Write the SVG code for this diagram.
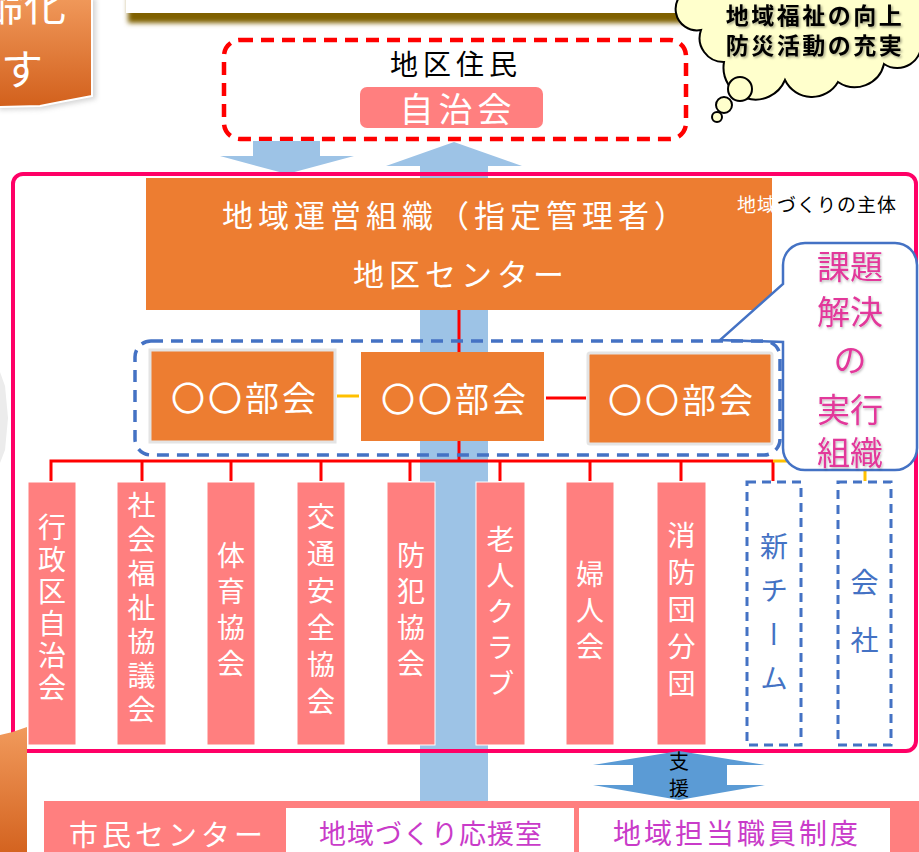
<svg xmlns="http://www.w3.org/2000/svg" width="919" height="852" viewBox="0 0 919 852">
<defs>
<linearGradient id="og" x1="0" y1="0" x2="0" y2="1"><stop offset="0" stop-color="#F19A5C"/><stop offset="1" stop-color="#D2601C"/></linearGradient>
<filter id="blur" x="-10%" y="-50%" width="120%" height="200%"><feGaussianBlur stdDeviation="2.5"/></filter>
<filter id="ts" x="-10%" y="-20%" width="120%" height="140%"><feDropShadow dx="1.5" dy="1.5" stdDeviation="1.2" flood-color="#000" flood-opacity="0.35"/></filter>
<filter id="ts2" x="-10%" y="-20%" width="120%" height="140%"><feDropShadow dx="1" dy="1.5" stdDeviation="1" flood-color="#000" flood-opacity="0.25"/></filter>
<style>
text{font-family:"Noto Sans CJK JP","Noto Sans CJK SC",sans-serif;}
.w{fill:#fff;}
.c{text-anchor:middle;dominant-baseline:central;}
.v{writing-mode:vertical-rl;text-anchor:middle;font-size:28px;fill:#fff;}
.mem{fill:#FF7F7F;stroke:#fff;stroke-width:1;}
.dmem{fill:#fff;stroke:#4472C4;stroke-width:3;stroke-dasharray:9 6;}
.bukai{fill:#ED7D31;stroke:#E4E4E4;stroke-width:3;}
.red{stroke:#FF0000;stroke-width:3;fill:none;}
.blue{fill:#9DC3E6;}
</style>
</defs>

<g id="top-left-box">
<path d="M-5,-5 H92 V96 Q60,102 40,106 L-5,107 Z" fill="#888" opacity="0.35" transform="translate(4,3)" filter="url(#blur)"/>
<path d="M-5,-5 H92 V96 Q60,102 40,106 L-5,107 Z" fill="url(#og)" stroke="#fff" stroke-width="2"/>
<text x="66" y="2" class="w" style="font-size:42px;text-anchor:end;dominant-baseline:central">齢化</text>
<text x="43" y="66" class="w" style="font-size:42px;text-anchor:end;dominant-baseline:central">す</text>
</g>

<g id="top-box">
<rect x="128" y="-10" width="580" height="33" fill="#7F6000" filter="url(#blur)"/>
<rect x="126" y="-10" width="582" height="23" fill="#fff"/>
</g>

<g id="left-shapes">
<path d="M0,372 L5,386 L8,418 L5,450 L0,463 Z" fill="#ECECEC"/>
</g>

<g id="residents">
<rect x="224" y="40" width="462" height="99" rx="16" fill="#fff" stroke="#FF0000" stroke-width="4.5" stroke-dasharray="13 8"/>
<text x="456" y="63" class="c" style="font-size:28px;letter-spacing:5px;fill:#000">地区住民</text>
<rect x="360" y="87" width="183" height="41" rx="7" fill="#FF7F7F"/>
<text x="458" y="107" class="c w" style="font-size:34px;letter-spacing:5px">自治会</text>
</g>

<g id="connectors">
<polygon class="blue" points="253,141 320,141 320,156 354,156 287,174 220,156 253,156"/>
<polygon class="blue" points="454,142 522,166 488,166 488,180 420,180 420,166 386,166"/>
<rect class="blue" x="420" y="300" width="68" height="502"/>
</g>

<g id="cloud">
<path d="M693,-12 A20 20 0 0 0 701,30 A24 24 0 0 0 724,62 A32 32 0 0 0 785,80 A30 30 0 0 0 838,82 A30 30 0 0 0 884,64 A24 24 0 0 0 921,40 L921,-12 Z" fill="#FFFFCC" stroke="#000" stroke-width="2"/>
<circle cx="740" cy="89" r="12" fill="#FFFFCC" stroke="#000" stroke-width="2"/>
<circle cx="724" cy="105" r="8" fill="#FFFFCC" stroke="#000" stroke-width="2"/>
<circle cx="717" cy="117" r="5" fill="#FFFFCC" stroke="#000" stroke-width="2"/>
<text x="815" y="14" class="c" filter="url(#ts)" style="font-size:23px;font-weight:bold;letter-spacing:2.5px;fill:#000">地域福祉の向上</text>
<text x="815" y="44" class="c" filter="url(#ts)" style="font-size:23px;font-weight:bold;letter-spacing:2.5px;fill:#000">防災活動の充実</text>
</g>

<g id="frame">
<rect x="13" y="174" width="903" height="577" rx="10" fill="none" stroke="#FF0066" stroke-width="4"/>
</g>

<g id="org">
<rect x="146" y="178" width="626" height="132" fill="#ED7D31"/>
<text x="456" y="213" class="c w" style="font-size:31px;letter-spacing:5px">地域運営組織（指定管理者）</text>
<text x="461" y="272" class="c w" style="font-size:31px;letter-spacing:5px">地区センター</text>
</g>

<g id="label-shutai">
<text x="737" y="203" style="font-size:19px;dominant-baseline:central;letter-spacing:1px"><tspan fill="#fff">地域</tspan><tspan fill="#000">づくりの主体</tspan></text>
</g>

<g id="tree">
<line class="red" x1="459" y1="310" x2="459" y2="352"/>
<line class="red" x1="459" y1="441" x2="459" y2="461"/>
<path class="red" d="M51,481 V461 H773 M142,461 V481 M231,461 V481 M321,461 V481 M410,461 V481 M500,461 V481 M590,461 V481 M681,461 V481 M773,461 V481"/>
<path d="M773,461 H865 V481" stroke="#FFC000" stroke-width="3" fill="none"/>
<line x1="337" y1="396" x2="359" y2="396" stroke="#FFC000" stroke-width="3"/>
<line x1="546" y1="398" x2="586" y2="398" stroke="#FF0000" stroke-width="3"/>
</g>

<g id="callout">
<path d="M805,243 H895 A22 22 0 0 1 917,265 V448 A22 22 0 0 1 895,470 H805 A22 22 0 0 1 783,448 V342 L720,340 L783,284 V265 A22 22 0 0 1 805,243 Z" fill="#fff" stroke="#4472C4" stroke-width="2.5"/>
<g filter="url(#ts2)" style="font-size:33px;fill:#E2379A">
<text x="850" y="265" class="c">課題</text>
<text x="850" y="310" class="c">解決</text>
<text x="850" y="358" class="c">の</text>
<text x="850" y="408" class="c">実行</text>
<text x="850" y="451" class="c">組織</text>
</g>
</g>

<g id="bukai-frame">
<rect x="135" y="341" width="645" height="114" rx="16" fill="none" stroke="#4472C4" stroke-width="3.5" stroke-dasharray="12 8"/>
</g>

<g id="bukai1"><rect class="bukai" x="150" y="350" width="185" height="92"/><text x="245" y="396" class="c w" style="font-size:34px;letter-spacing:3px">〇〇部会</text></g>
<g id="bukai2"><rect x="361" y="352" width="183" height="89" fill="#ED7D31"/><text x="455" y="397" class="c w" style="font-size:34px;letter-spacing:3px">〇〇部会</text></g>
<g id="bukai3"><rect class="bukai" x="588" y="353" width="184" height="91" rx="2"/><text x="682" y="398" class="c w" style="font-size:34px;letter-spacing:3px">〇〇部会</text></g>

<g id="m1"><rect class="mem" x="28" y="482" width="48" height="263"/><text x="52" y="609" class="v" style="letter-spacing:4px">行政区自治会</text></g>
<g id="m2"><rect class="mem" x="117" y="482" width="49" height="263"/><text x="141.5" y="610" class="v" style="letter-spacing:6px">社会福祉協議会</text></g>
<g id="m3"><rect class="mem" x="207" y="482" width="48" height="263"/><text x="231" y="613" class="v" style="letter-spacing:8px">体育協会</text></g>
<g id="m4"><rect class="mem" x="297" y="482" width="48" height="263"/><text x="321" y="613" class="v" style="letter-spacing:9px">交通安全協会</text></g>
<g id="m5"><rect class="mem" x="387" y="482" width="48" height="263"/><text x="411" y="613" class="v" style="letter-spacing:8px">防犯協会</text></g>
<g id="m6"><rect class="mem" x="476" y="482" width="49" height="263"/><text x="500.5" y="615" class="v" style="letter-spacing:8px">老人クラブ</text></g>
<g id="m7"><rect class="mem" x="566" y="482" width="48" height="263"/><text x="590" y="614" class="v" style="letter-spacing:8px">婦人会</text></g>
<g id="m8"><rect class="mem" x="657" y="482" width="49" height="263"/><text x="681.5" y="614" class="v" style="letter-spacing:9px">消防団分団</text></g>
<g id="m9"><rect class="dmem" x="747" y="482" width="54" height="263"/><text x="774" y="620" class="v" style="fill:#4472C4;letter-spacing:16px">新チーム</text></g>
<g id="m10"><rect class="dmem" x="838" y="482" width="53" height="263"/><text x="864.5" y="626" class="v" style="fill:#4472C4;letter-spacing:30px">会社</text></g>

<g id="support-arrow">
<polygon points="679,751 765,765 727,765 727,785 765,785 679,800 593,785 633,785 633,765 593,765" fill="#5B9BD5"/>
<text x="679" y="760" class="c" style="font-size:20px;fill:#000">支</text>
<text x="679" y="787" class="c" style="font-size:20px;fill:#000">援</text>
</g>

<g id="bottom-left-shape">
<path d="M-5,736 Q12,733 27,727 V860 H-5 Z" fill="url(#og)"/>
</g>

<g id="city-center">
<rect x="44" y="801" width="880" height="60" fill="#FF7F7F"/>
<text x="168" y="833" class="c w" style="font-size:29px;letter-spacing:4px">市民センター</text>
</g>
<g id="support-room">
<rect x="286" y="808" width="288" height="50" fill="#fff"/>
<text x="431" y="832" class="c" style="font-size:27px;letter-spacing:1px;fill:#C93BC9">地域づくり応援室</text>
</g>
<g id="staff-system">
<rect x="579" y="808" width="311" height="50" fill="#fff"/>
<text x="737" y="832" class="c" style="font-size:28px;letter-spacing:3px;fill:#C93BC9">地域担当職員制度</text>
</g>
</svg>
